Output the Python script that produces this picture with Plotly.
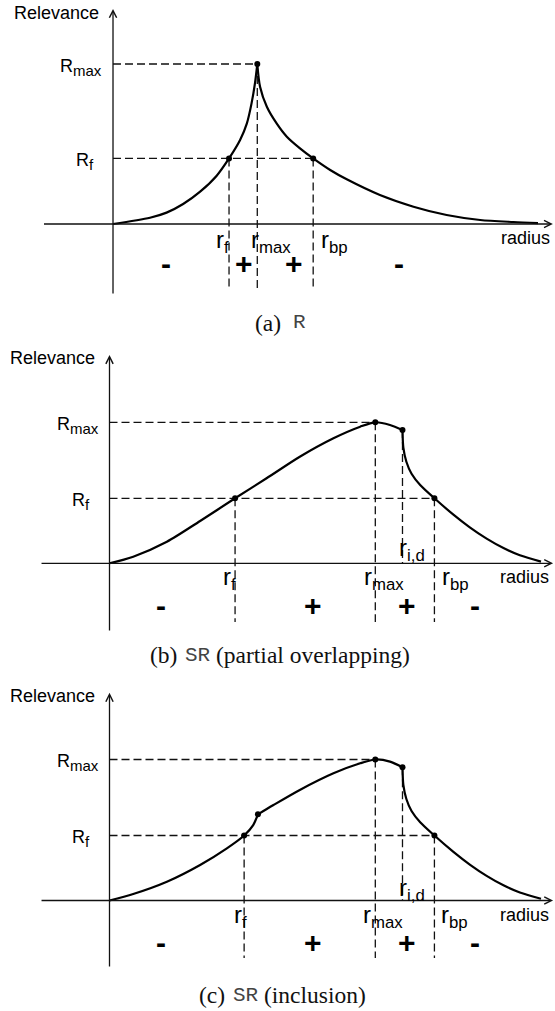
import plotly.graph_objects as go

# ---------------- data (radius units, relevance units with R_max = 1) ----------------
# Panel (a): R
a_rise_r = [0, 0.87, 1.26, 1.65, 2.05, 2.44, 2.73, 2.99, 3.15, 3.26, 3.34, 3.395]
a_rise_v = [0, 0.039, 0.071, 0.125, 0.202, 0.302, 0.41, 0.525, 0.629, 0.754, 0.879, 1.0]
a_fall_r = [3.395, 3.46, 3.62, 3.85, 4.09, 4.40, 4.71, 5.11, 5.50, 6.28, 7.07, 7.85, 8.64, 9.42, 10.0]
a_fall_v = [1.0, 0.858, 0.733, 0.629, 0.546, 0.473, 0.41, 0.3375, 0.279, 0.181, 0.108, 0.056, 0.025, 0.0125, 0.006]
a_r_f, a_r_max, a_r_bp = 2.73, 3.395, 4.71
a_R_max, a_R_f = 1.0, 0.41

# Panel (b): SR (partial overlapping)
b_rise_r = [0, 0.55, 1.33, 2.10, 2.91, 3.64, 4.41, 5.19, 5.81, 6.16, 6.50, 6.79]
b_rise_v = [0, 0.047, 0.153, 0.30, 0.461, 0.603, 0.756, 0.887, 0.969, 1.0, 0.981, 0.945]
b_fall_r = [6.79, 6.81, 6.88, 7.00, 7.20, 7.53, 7.97, 8.35, 8.74, 9.13, 9.51, 10.0]
b_fall_v = [0.945, 0.82, 0.72, 0.635, 0.555, 0.461, 0.345, 0.255, 0.175, 0.108, 0.057, 0.012]
b_r_f, b_r_max, b_r_id, b_r_bp = 2.91, 6.16, 6.79, 7.53
b_R_max, b_R_f, b_R_id = 1.0, 0.461, 0.945

# Panel (c): SR (inclusion)
c_rise1_r = [0, 0.55, 1.33, 2.10, 2.72, 3.12, 3.33, 3.44]
c_rise1_v = [0, 0.046, 0.133, 0.252, 0.37, 0.461, 0.535, 0.611]
c_rise2_r = [3.44, 3.80, 4.41, 5.19, 5.81, 6.16, 6.50, 6.79]
c_rise2_v = [0.611, 0.677, 0.784, 0.902, 0.973, 1.0, 0.985, 0.945]
c_fall_r = [6.79, 6.81, 6.88, 7.00, 7.20, 7.53, 7.97, 8.35, 8.74, 9.13, 9.51, 10.0]
c_fall_v = [0.945, 0.82, 0.72, 0.635, 0.555, 0.461, 0.345, 0.255, 0.175, 0.108, 0.057, 0.012]
c_r_f, c_r_kink, c_r_max, c_r_id, c_r_bp = 3.12, 3.44, 6.16, 6.79, 7.53
c_R_max, c_R_f, c_R_kink, c_R_id = 1.0, 0.461, 0.611, 0.945

# tick labels / texts
y_title = "Relevance"
x_title = "radius"
SUBR = "<sub><span style=\"font-size:15px\">{}</span></sub>"
level_labels = ["R" + SUBR.format("max"), "R" + SUBR.format("f")]
a_rlabels = ["r<sub>f</sub>", "r<sub>max</sub>", "r<sub>bp</sub>"]
bc_rlabels = ["r<sub>f</sub>", "r<sub>max</sub>", "r<sub>bp</sub>"]
rid_label = "r<sub>i,d</sub>"
a_signs = ["-", "+", "+", "-"]
bc_signs = ["-", "+", "+", "-"]
cap_tags = ["(a)", "(b)", "(c)"]
cap_names = ["R", "SR", "SR"]
cap_rest = ["", "(partial overlapping)", "(inclusion)"]

# ---------------- styling ----------------
FONT = "Liberation Sans, Arial, sans-serif"
SERIF = "Liberation Serif, serif"
MONOF = "Liberation Mono"
CURVE = dict(color="black", width=2.2)
DASH = dict(color="#111", width=1.3, dash="8px,4px")
AXIS_COLOR = "#111"

fig = go.Figure()

panels = {
    "a": dict(xa="x", ya="y", xrange=[-2.659, 10.4], yrange=[-0.6625, 1.4], dom=[0.6736, 1.0]),
    "b": dict(xa="x2", ya="y2", xrange=[-2.5377, 10.3244], yrange=[-0.7567, 1.6546], dom=[0.3373, 0.6736]),
    "c": dict(xa="x3", ya="y3", xrange=[-2.5377, 10.3244], yrange=[-0.7837, 1.6348], dom=[0.0, 0.3373]),
}


def curve(p, xs, ys):
    fig.add_trace(go.Scatter(x=xs, y=ys, mode="lines", line=dict(shape="spline", smoothing=0.8, **CURVE),
                             xaxis=p["xa"], yaxis=p["ya"], hoverinfo="skip", showlegend=False))


def dashed(p, segs):
    xs, ys = [], []
    for (x0, y0, x1, y1) in segs:
        xs += [x0, x1, None]
        ys += [y0, y1, None]
    fig.add_trace(go.Scatter(x=xs, y=ys, mode="lines", line=DASH, xaxis=p["xa"], yaxis=p["ya"],
                             hoverinfo="skip", showlegend=False))


def dots(p, xs, ys):
    fig.add_trace(go.Scatter(x=xs, y=ys, mode="markers", marker=dict(color="black", size=6),
                             xaxis=p["xa"], yaxis=p["ya"], hoverinfo="skip", showlegend=False))


def text(p, x, y, s, size=18, xanchor="left", yanchor="middle", bold=False):
    fig.add_annotation(x=x, y=y, xref=p["xa"], yref=p["ya"], text=(f"<b>{s}</b>" if bold else s),
                       showarrow=False, xanchor=xanchor, yanchor=yanchor,
                       font=dict(family=FONT, size=size, color="black"))


def axes(p, xleft, xright, ybottom, ytop):
    for (x, y, ax, ay) in [(xright, 0, xleft, 0), (0, ytop, 0, ybottom)]:
        fig.add_annotation(x=x, y=y, ax=ax, ay=ay, xref=p["xa"], yref=p["ya"], axref=p["xa"], ayref=p["ya"],
                           text="", showarrow=True, arrowhead=5, arrowsize=1.1, arrowwidth=1.3,
                           arrowcolor=AXIS_COLOR)


# ---------------- panel (a) ----------------
p = panels["a"]
axes(p, -1.66, 10.35, -0.444, 1.344)
dashed(p, [(0, a_R_max, a_r_max, a_R_max), (0, a_R_f, a_r_bp, a_R_f),
           (a_r_f, a_R_f, a_r_f, -0.4125), (a_r_max, a_R_max, a_r_max, -0.4125),
           (a_r_bp, a_R_f, a_r_bp, -0.4125)])
curve(p, a_rise_r, a_rise_v)
curve(p, a_fall_r, a_fall_v)
dots(p, [a_r_f, a_r_max, a_r_bp], [a_R_f, a_R_max, a_R_f])
text(p, -0.28, 1.32, y_title, xanchor="right")
text(p, -0.21, a_R_max - 0.02, level_labels[0], xanchor="right")
text(p, -0.40, a_R_f - 0.02, level_labels[1], xanchor="right")
for xpos, lab in zip([2.38, 3.21, 4.84], a_rlabels):
    text(p, xpos, -0.11, lab, size=24)
text(p, 9.08, -0.0875, x_title)
for xpos, s in zip([1.25, 3.08, 4.26, 6.73], a_signs):
    text(p, xpos, -0.25, s, size=30, xanchor="center", bold=True)

# ---------------- panel (b) ----------------
p = panels["b"]
axes(p, -1.61, 10.28, -0.487, 1.477)
dashed(p, [(0, b_R_max, b_r_max, b_R_max), (0, b_R_f, b_r_bp, b_R_f),
           (b_r_f, b_R_f, b_r_f, -0.416), (b_r_max, b_R_max, b_r_max, -0.416),
           (b_r_id, b_R_id, b_r_id, 0), (b_r_bp, b_R_f, b_r_bp, -0.416)])
curve(p, b_rise_r, b_rise_v)
curve(p, b_fall_r, b_fall_v)
dots(p, [b_r_f, b_r_max, b_r_id, b_r_bp], [b_R_f, b_R_max, b_R_id, b_R_f])
text(p, -0.29, 1.456, y_title, xanchor="right")
text(p, -0.20, b_R_max - 0.02, level_labels[0], xanchor="right")
text(p, -0.40, b_R_f - 0.02, level_labels[1], xanchor="right")
for xpos, lab in zip([2.58, 5.845, 7.66], bc_rlabels):
    text(p, xpos, -0.11, lab, size=24)
text(p, 6.66, 0.10, rid_label, size=24)
text(p, 9.0, -0.1, x_title)
for xpos, s in zip([1.19, 4.71, 6.89, 8.47], bc_signs):
    text(p, xpos, -0.296, s, size=30, xanchor="center", bold=True)

# ---------------- panel (c) ----------------
p = panels["c"]
axes(p, -1.61, 10.28, -0.479, 1.473)
dashed(p, [(0, c_R_max, c_r_max, c_R_max), (0, c_R_f, c_r_bp, c_R_f),
           (c_r_f, c_R_f, c_r_f, -0.408), (c_r_max, c_R_max, c_r_max, -0.408),
           (c_r_id, c_R_id, c_r_id, 0), (c_r_bp, c_R_f, c_r_bp, -0.408)])
curve(p, c_rise1_r, c_rise1_v)
curve(p, c_rise2_r, c_rise2_v)
curve(p, c_fall_r, c_fall_v)
dots(p, [c_r_f, c_r_kink, c_r_max, c_r_id, c_r_bp], [c_R_f, c_R_kink, c_R_max, c_R_id, c_R_f])
text(p, -0.29, 1.45, y_title, xanchor="right")
text(p, -0.20, c_R_max - 0.02, level_labels[0], xanchor="right")
text(p, -0.40, c_R_f - 0.02, level_labels[1], xanchor="right")
for xpos, lab in zip([2.84, 5.83, 7.64], bc_rlabels):
    text(p, xpos, -0.11, lab, size=24)
text(p, 6.66, 0.08, rid_label, size=24)
text(p, 9.0, -0.1, x_title)
for xpos, s in zip([1.19, 4.71, 6.89, 8.47], bc_signs):
    text(p, xpos, -0.30, s, size=30, xanchor="center", bold=True)

# ---------------- captions (paper px positions) ----------------
W, H = 555, 1011
cap_y = [323, 655, 995]
cap_tag_right = [283, 179, 226.5]
cap_name_left = [291, 183, 231]
cap_rest_left = [0, 214, 262]
for i in range(3):
    yp = 1 - cap_y[i] / H
    fig.add_annotation(x=cap_tag_right[i] / W, y=yp, xref="paper", yref="paper", text=cap_tags[i],
                       showarrow=False, xanchor="right", yanchor="middle",
                       font=dict(family=SERIF, size=23.5, color="#111"))
    fig.add_annotation(x=cap_name_left[i] / W, y=yp, xref="paper", yref="paper", text=cap_names[i],
                       showarrow=False, xanchor="left", yanchor="middle",
                       font=dict(family=MONOF, size=21, color="#444"))
    if cap_rest[i]:
        fig.add_annotation(x=cap_rest_left[i] / W, y=yp, xref="paper", yref="paper", text=cap_rest[i],
                           showarrow=False, xanchor="left", yanchor="middle",
                           font=dict(family=SERIF, size=23.5, color="#111"))

# ---------------- layout ----------------
layout = dict(width=W, height=H, margin=dict(l=0, r=0, t=0, b=0),
              paper_bgcolor="white", plot_bgcolor="white", showlegend=False)
for key, p in panels.items():
    xn = "xaxis" + p["xa"][1:]
    yn = "yaxis" + p["ya"][1:]
    layout[xn] = dict(domain=[0, 1], range=p["xrange"], visible=False, anchor=p["ya"], fixedrange=True)
    layout[yn] = dict(domain=p["dom"], range=p["yrange"], visible=False, anchor=p["xa"], fixedrange=True)
fig.update_layout(**layout)

fig.write_html("out.html", config={"displayModeBar": False},
               post_script="document.body.style.margin='0';document.body.style.overflow='hidden';")
